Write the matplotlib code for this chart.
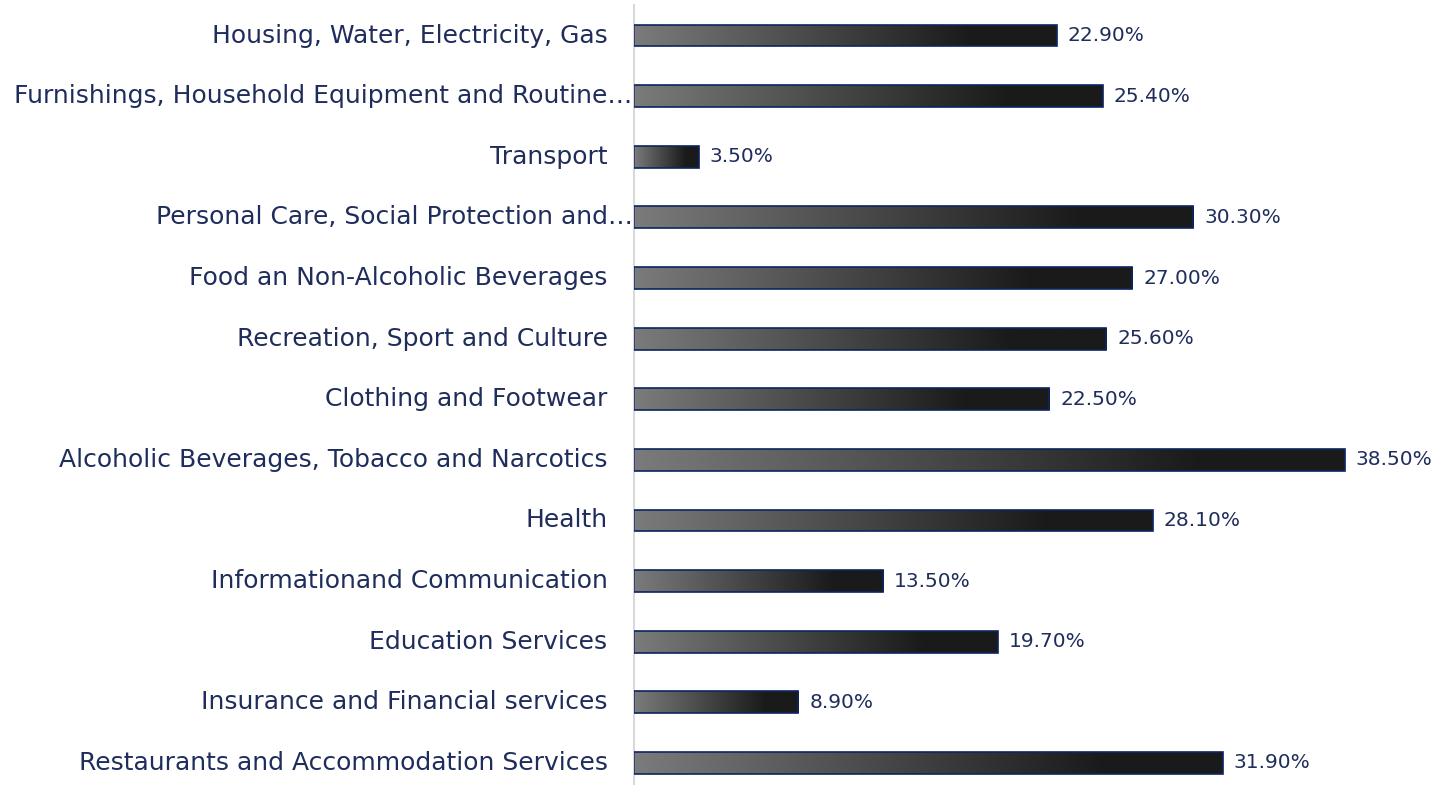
import numpy as np
import matplotlib
matplotlib.use("Agg")
import matplotlib.pyplot as plt
from matplotlib.colors import LinearSegmentedColormap

categories = [
    "Housing, Water, Electricity, Gas",
    "Furnishings, Household Equipment and Routine\u2026",
    "Transport",
    "Personal Care, Social Protection and\u2026",
    "Food an Non-Alcoholic Beverages",
    "Recreation, Sport and Culture",
    "Clothing and Footwear",
    "Alcoholic Beverages, Tobacco and Narcotics",
    "Health",
    "Informationand Communication",
    "Education Services",
    "Insurance and Financial services",
    "Restaurants and Accommodation Services",
]
values = [22.9, 25.4, 3.5, 30.3, 27.0, 25.6, 22.5, 38.5, 28.1, 13.5, 19.7, 8.9, 31.9]

text_color = "#1f2d5c"
edge_color = "#0c2461"

plt.rcParams['font.family'] = ['DejaVu Sans']

fig = plt.figure(figsize=(14.55, 7.85), dpi=100)
ax = fig.add_axes([634 / 1455, -0.0105, 812 / 1455, 788 / 785])

y = np.arange(len(categories))
bars = ax.barh(y, values, height=0.36, facecolor="none", edgecolor=edge_color, linewidth=1.2, zorder=3)

# gradient fill for each bar (gray -> near black)
cmap = LinearSegmentedColormap.from_list("grad", [(0, "#7b7b7b"), (0.8, "#1a1a1a"), (1, "#1a1a1a")])
grad = np.linspace(0, 1, 256).reshape(1, -1)
for bar in bars:
    x0, y0 = bar.get_x(), bar.get_y()
    w, h = bar.get_width(), bar.get_height()
    im = ax.imshow(grad, extent=[x0, x0 + w, y0, y0 + h], cmap=cmap, aspect="auto", zorder=2)
    im.set_clip_path(bar)

ax.set_xlim(0, 44)
ax.set_ylim(len(categories) - 0.5, -0.5)

for yi, v in zip(y, values):
    ax.annotate(f"{v:.2f}%", (v, yi), xytext=(8, 0), textcoords="offset points",
                va="center", ha="left", fontsize=14.5, color=text_color)

# category labels; truncated ones run right up to the axis
for yi, name in zip(y, categories):
    off = -1 if name.endswith("\u2026") else -19
    ax.annotate(name, (0, yi), xycoords=("axes fraction", "data"), xytext=(off, 0),
                textcoords="offset points", va="center", ha="right",
                fontsize=18, color=text_color)

ax.set_yticks([])
ax.set_xticks([])

for s in ["top", "right", "bottom"]:
    ax.spines[s].set_visible(False)
ax.spines["left"].set_color("#d9d9d9")
ax.spines["left"].set_linewidth(1.5)

fig.savefig("out.png", dpi=100)
